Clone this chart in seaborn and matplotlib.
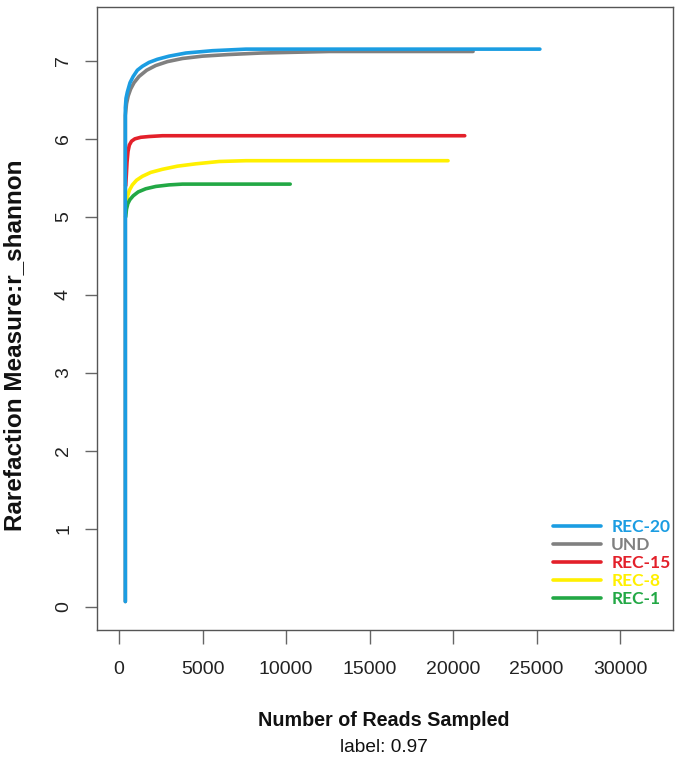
import matplotlib
matplotlib.use("Agg")
import matplotlib.pyplot as plt
import seaborn as sns

sns.set_style("white")
plt.rcParams["font.family"] = ["Liberation Sans", "DejaVu Sans"]

# rarefaction curves (reads sampled vs shannon)
und_x = [380, 380, 450, 550, 700, 900, 1200, 1660, 2200, 2900, 3800, 5000,
         6500, 8500, 12600, 21200]
und_y = [0.07, 6.30, 6.45, 6.55, 6.64, 6.72, 6.80, 6.88, 6.94, 6.99, 7.03,
         7.06, 7.08, 7.10, 7.12, 7.12]

rec20_x = [380, 380, 420, 500, 660, 850, 1100, 1400, 1800, 2300, 3000, 4000,
           5600, 7600, 25200]
rec20_y = [0.07, 6.40, 6.52, 6.60, 6.72, 6.80, 6.88, 6.93, 6.98, 7.02, 7.06,
           7.10, 7.13, 7.15, 7.15]

rec15_x = [400, 440, 480, 540, 620, 750, 950, 1300, 1800, 2600, 20700]
rec15_y = [5.40, 5.54, 5.70, 5.84, 5.92, 5.97, 6.00, 6.02, 6.03, 6.04, 6.04]

rec8_x = [400, 450, 520, 620, 800, 1050, 1400, 1900, 2600, 3500, 4600, 6000,
          7600, 19700]
rec8_y = [5.05, 5.18, 5.27, 5.34, 5.41, 5.47, 5.52, 5.57, 5.61, 5.65, 5.68,
          5.71, 5.72, 5.72]

rec1_x = [400, 450, 530, 650, 850, 1150, 1600, 2200, 3000, 3800, 10250]
rec1_y = [5.00, 5.10, 5.17, 5.22, 5.27, 5.32, 5.36, 5.39, 5.41, 5.42, 5.42]

x_ticks = [0, 5000, 10000, 15000, 20000, 25000, 30000]
y_ticks = [0, 1, 2, 3, 4, 5, 6, 7]

series = [
    ("UND", und_x, und_y, "#808080"),
    ("REC-15", rec15_x, rec15_y, "#e3202a"),
    ("REC-8", rec8_x, rec8_y, "#fff000"),
    ("REC-1", rec1_x, rec1_y, "#22a845"),
    ("REC-20", rec20_x, rec20_y, "#1b9de2"),
]
legend_order = ["REC-20", "UND", "REC-15", "REC-8", "REC-1"]

fig = plt.figure(figsize=(6.78, 7.62), dpi=100)
ax = fig.add_axes([97 / 678, 132 / 762, 576 / 678, 623 / 762])

handles = {}
for name, xs, ys, col in series:
    sns.lineplot(x=xs, y=ys, color=col, linewidth=2.6, sort=False,
                 estimator=None, ax=ax)
    handles[name] = (ax.lines[-1], col)

ax.set_xlim(-1317, 33170)
ax.set_ylim(-0.295, 7.69)
ax.set_xticks(x_ticks)
ax.set_yticks(y_ticks)
ax.set_xticklabels([str(t) for t in x_ticks])
ax.set_yticklabels([str(t) for t in y_ticks], rotation=90, va="center")
ax.tick_params(axis="both", direction="out", length=9, width=1,
               color="#666666", labelsize=14, labelcolor="#222222")
ax.tick_params(axis="y", pad=9)
ax.tick_params(axis="x", pad=12, length=10)
ax.tick_params(left=True, bottom=True)
for sp in ax.spines.values():
    sp.set_visible(True)
    sp.set_color("#555555")
    sp.set_linewidth(1)

fig.text(384 / 678, 1 - 721 / 762, "Number of Reads Sampled", ha="center",
         va="center", fontsize=14.2, fontweight="bold", color="#111111")
fig.text(384 / 678, 1 - 747 / 762, "label: 0.97", ha="center",
         va="center", fontsize=13.8, color="#111111")
fig.text(15 / 678, 1 - 345 / 762, "Rarefaction Measure:r_shannon",
         ha="center", va="center", rotation=90, fontsize=17.5,
         fontweight="bold", color="#111111")

leg = ax.legend([handles[n][0] for n in legend_order], legend_order,
                loc="center left", bbox_to_anchor=(553 / 678, 1 - 563 / 762),
                bbox_transform=fig.transFigure, frameon=False,
                handlelength=2.75, handletextpad=0.6, labelspacing=0.12,
                borderpad=0, borderaxespad=0,
                prop={"family": "Lato", "weight": "bold", "size": 12.5})
for txt, n in zip(leg.get_texts(), legend_order):
    txt.set_color(handles[n][1])

fig.savefig("out.png", dpi=100)
